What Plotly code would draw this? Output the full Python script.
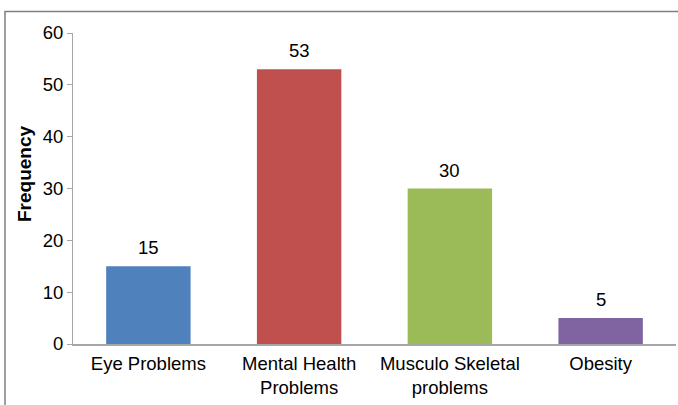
import plotly.graph_objects as go

categories = ["Eye Problems", "Mental Health<br>Problems", "Musculo Skeletal<br>problems", "Obesity"]
values = [15, 53, 30, 5]
colors = ["#4F81BD", "#C0504D", "#9BBB59", "#8064A2"]
y_ticks = [0, 10, 20, 30, 40, 50, 60]
y_title = "Frequency"

W, H = 678, 405
ml, mr, mt, mb = 73, 2, 33, 61
pw, ph = W - ml - mr, H - mt - mb
FONT = "Liberation Sans, Arial"

fig = go.Figure(go.Bar(
    x=categories, y=values, marker_color=colors, marker_line_width=0,
    width=0.56,
))

for c, v in zip(categories, values):
    fig.add_annotation(x=c, y=v, text=str(v), showarrow=False, yanchor="bottom",
                       yshift=6, font=dict(size=18.5, color="#000000", family=FONT))

# y-axis title (placed as in the reference, slightly above the plot centre)
fig.add_annotation(xref="paper", yref="paper", x=(24 - ml) / pw, y=(H - mb - 174) / ph,
                   text="<b>" + y_title + "</b>", textangle=-90, showarrow=False,
                   xanchor="center", yanchor="middle",
                   font=dict(size=19, color="#000000", family=FONT))

fx0 = (5 - ml) / pw
fy1 = 1 + (mt - 11.5) / ph
fig.add_shape(type="rect", xref="paper", yref="paper",
              x0=fx0, x1=1.5, y0=-1, y1=fy1,
              line=dict(color="#7f7f7f", width=1.5), fillcolor="rgba(0,0,0,0)", layer="below")

fig.update_layout(
    width=W, height=H,
    margin=dict(l=ml, r=mr, t=mt, b=mb),
    paper_bgcolor="white", plot_bgcolor="white",
    showlegend=False,
    font=dict(family=FONT, size=18.5, color="#000000"),
    xaxis=dict(showline=True, linecolor="#a6a6a6", linewidth=1.5, ticks="",
               tickfont=dict(size=18.5), showgrid=False, ticklabelstandoff=2),
    yaxis=dict(range=[0, 60], tickvals=y_ticks, showline=True, linecolor="#a6a6a6",
               linewidth=1, ticks="outside", ticklen=5, tickcolor="#a6a6a6",
               showgrid=False, zeroline=False, tickfont=dict(size=18.5)),
)

fig.write_html("out.html")
